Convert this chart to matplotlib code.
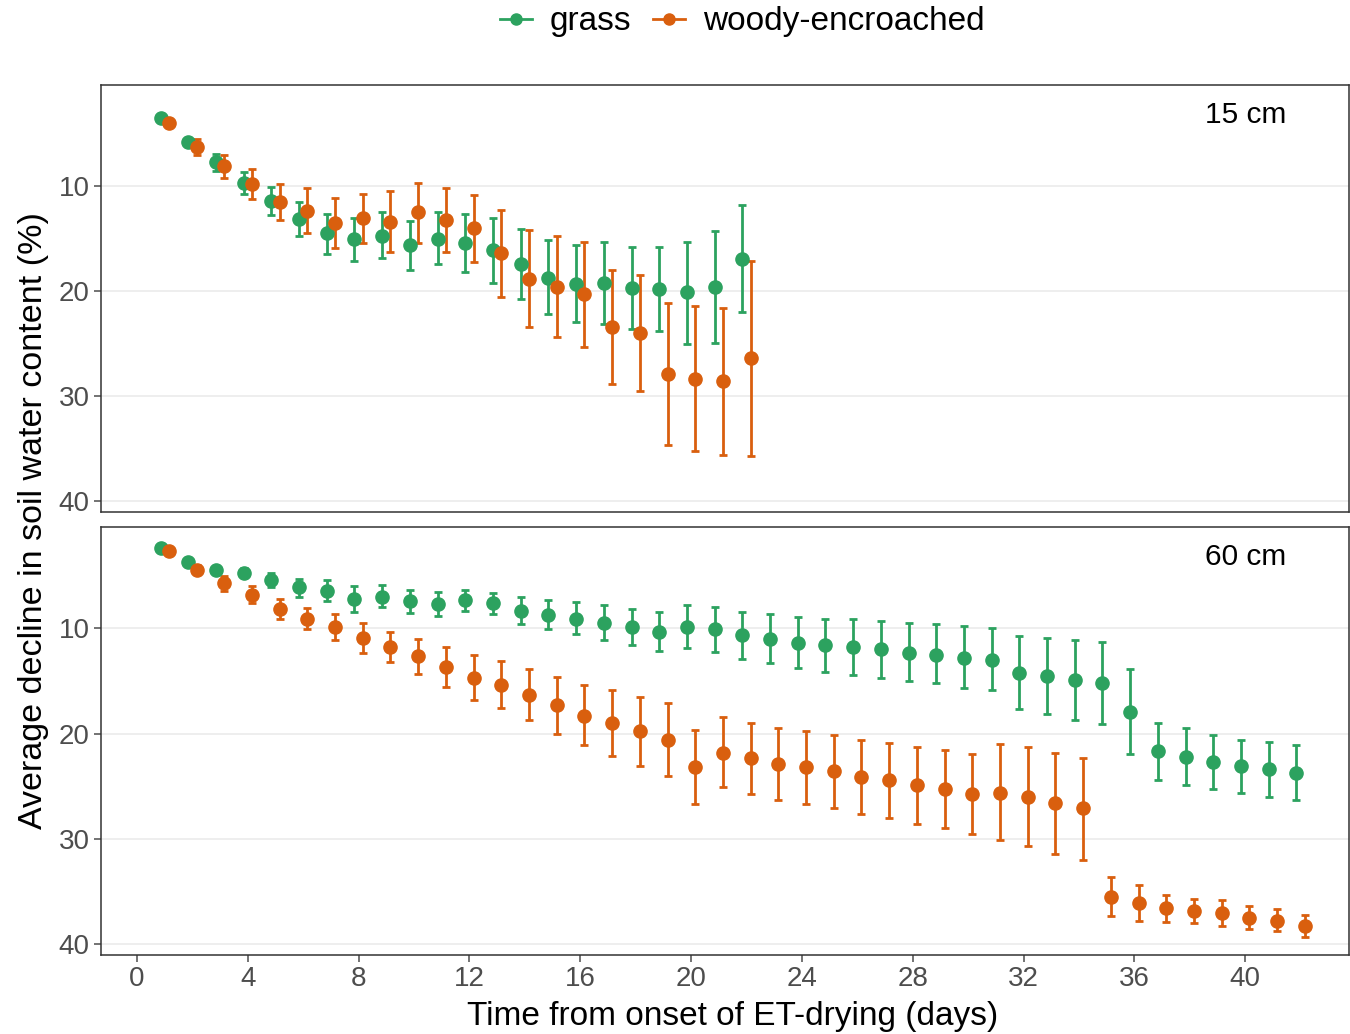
import numpy as np
import matplotlib as mpl
import matplotlib.pyplot as plt
from matplotlib.lines import Line2D

mpl.rcParams['font.family'] = ['Liberation Sans', 'DejaVu Sans']

# 15 cm depth
days15 = np.arange(1, 23)
grass15 = [3.5, 5.8, 7.7, 9.7, 11.4, 13.1, 14.5, 15.0, 14.7, 15.6, 15.0, 15.4,
           16.1, 17.4, 18.7, 19.3, 19.2, 19.7, 19.8, 20.1, 19.6, 16.9]
grass15_lo = [3.3, 5.5, 6.9, 8.6, 10.1, 11.5, 12.6, 13.0, 12.5, 13.3, 12.5, 12.6,
              13.0, 14.1, 15.1, 15.6, 15.3, 15.8, 15.8, 15.3, 14.3, 11.8]
grass15_hi = [3.7, 6.1, 8.5, 10.7, 12.7, 14.7, 16.5, 17.1, 16.8, 18.0, 17.4, 18.2,
              19.2, 20.7, 22.2, 22.9, 23.1, 23.6, 23.8, 25.0, 24.9, 22.0]
woody15 = [4.0, 6.3, 8.1, 9.8, 11.5, 12.4, 13.5, 13.0, 13.4, 12.5, 13.2, 14.0,
           16.4, 18.8, 19.6, 20.3, 23.4, 24.0, 27.9, 28.4, 28.6, 26.4]
woody15_lo = [3.8, 5.5, 7.0, 8.4, 9.8, 10.2, 11.1, 10.7, 10.5, 9.7, 10.2, 10.8,
              12.3, 14.2, 14.7, 15.3, 18.0, 18.5, 21.1, 21.4, 21.6, 17.1]
woody15_hi = [4.2, 7.0, 9.2, 11.2, 13.2, 14.5, 15.9, 15.4, 16.3, 15.4, 16.3, 17.2,
              20.6, 23.4, 24.4, 25.3, 28.8, 29.5, 34.7, 35.2, 35.6, 35.7]

# 60 cm depth
days60 = np.arange(1, 43)
grass60 = [2.4, 3.7, 4.4, 4.7, 5.4, 6.1, 6.4, 7.2, 7.0, 7.4, 7.7, 7.3, 7.6, 8.3,
           8.7, 9.1, 9.5, 9.9, 10.3, 9.9, 10.1, 10.6, 11.0, 11.4, 11.6, 11.8, 12.0, 12.3,
           12.5, 12.8, 13.0, 14.2, 14.5, 14.9, 15.2, 17.9, 21.7, 22.2, 22.7, 23.1, 23.4, 23.7]
grass60_lo = [2.3, 3.5, 4.1, 4.3, 4.7, 5.3, 5.4, 6.0, 5.9, 6.3, 6.5, 6.3, 6.6, 7.0,
              7.3, 7.5, 7.8, 8.2, 8.4, 7.8, 8.0, 8.4, 8.6, 8.9, 9.1, 9.1, 9.3, 9.5,
              9.6, 9.8, 10.0, 10.7, 10.9, 11.1, 11.3, 13.9, 19.0, 19.5, 20.1, 20.6, 20.8, 21.1]
grass60_hi = [2.5, 3.9, 4.7, 5.1, 6.1, 7.0, 7.4, 8.4, 8.0, 8.5, 8.8, 8.3, 8.6, 9.6,
              10.1, 10.5, 11.1, 11.6, 12.1, 11.9, 12.2, 12.9, 13.3, 13.8, 14.1, 14.4, 14.7, 15.0,
              15.2, 15.7, 15.9, 17.7, 18.1, 18.7, 19.1, 21.9, 24.4, 24.9, 25.3, 25.6, 26.0, 26.3]
woody60 = [2.6, 4.4, 5.7, 6.8, 8.2, 9.1, 9.9, 10.9, 11.8, 12.6, 13.7, 14.7, 15.4, 16.3,
           17.3, 18.3, 19.0, 19.8, 20.6, 23.2, 21.8, 22.3, 22.9, 23.2, 23.6, 24.1, 24.4, 24.9,
           25.3, 25.7, 25.6, 26.0, 26.6, 27.1, 35.5, 36.1, 36.6, 36.9, 37.1, 37.5, 37.8, 38.3]
woody60_lo = [2.5, 4.0, 5.0, 6.0, 7.2, 8.1, 8.6, 9.5, 10.3, 11.0, 11.8, 12.5, 13.1, 13.9,
              14.6, 15.4, 15.9, 16.5, 17.1, 19.7, 18.4, 19.0, 19.5, 19.8, 20.1, 20.6, 20.9, 21.3,
              21.6, 21.9, 21.0, 21.3, 21.8, 22.3, 33.6, 34.4, 35.3, 35.7, 35.8, 36.4, 36.7, 37.2]
woody60_hi = [2.7, 4.8, 6.4, 7.6, 9.1, 10.1, 11.1, 12.3, 13.2, 14.3, 15.6, 16.8, 17.6, 18.7,
              20.0, 21.1, 22.1, 23.1, 24.0, 26.7, 25.1, 25.7, 26.3, 26.7, 27.1, 27.6, 28.0, 28.6,
              29.0, 29.5, 30.1, 30.7, 31.4, 32.0, 37.3, 37.8, 37.9, 38.0, 38.3, 38.6, 38.8, 39.3]

green = '#2ca25f'
orange = '#d95f0e'
dodge = 0.15

fig = plt.figure(figsize=(13.5, 10.34), dpi=100)
ax1 = fig.add_axes([0.0748, 0.5048, 0.9245, 0.413])
ax2 = fig.add_axes([0.0748, 0.0764, 0.9245, 0.414])


def draw(ax, days, g, glo, ghi, w, wlo, whi, label):
    for x, y, lo, hi, col in [(days - dodge, g, glo, ghi, green),
                              (days + dodge, w, wlo, whi, orange)]:
        y = np.array(y)
        err = [y - np.array(lo), np.array(hi) - y]
        ax.errorbar(x, y, yerr=err, fmt='o', color=col, ms=9.5, elinewidth=2,
                    capsize=3, capthick=2, zorder=3)
    ax.set_xlim(-1.3, 43.75)
    ax.set_ylim(41.05, 0.35)
    ax.set_yticks([10, 20, 30, 40])
    ax.grid(axis='y', color='#ebebeb', linewidth=1.2)
    ax.set_axisbelow(True)
    for s in ax.spines.values():
        s.set_color('#333333')
        s.set_linewidth(1.1)
    ax.tick_params(labelsize=20, colors='#4d4d4d', length=5, width=1.1, pad=3)
    ax.text(0.95, 0.93, label, transform=ax.transAxes, fontsize=21.5,
            ha='right', va='center', color='black')


draw(ax1, days15, grass15, grass15_lo, grass15_hi, woody15, woody15_lo, woody15_hi, '15 cm')
draw(ax2, days60, grass60, grass60_lo, grass60_hi, woody60, woody60_lo, woody60_hi, '60 cm')
ax1.set_xticks([])
ax2.set_xticks(range(0, 41, 4))

fig.text(0.0245, 0.497, 'Average decline in soil water content (%)', rotation=90,
         ha='center', va='center', fontsize=24.5)
fig.text(0.543, 0.017, 'Time from onset of ET-drying (days)', ha='center',
         va='center', fontsize=24)

handles = [Line2D([0], [0], color=green, marker='o', ms=8, lw=2),
           Line2D([0], [0], color=orange, marker='o', ms=8, lw=2)]
fig.legend(handles, ['grass', 'woody-encroached'], loc='center',
           bbox_to_anchor=(0.55, 0.979), ncol=2, frameon=False, fontsize=24,
           handlelength=0.95, handletextpad=0.55, columnspacing=0.65)

fig.savefig('out.png', dpi=100)
